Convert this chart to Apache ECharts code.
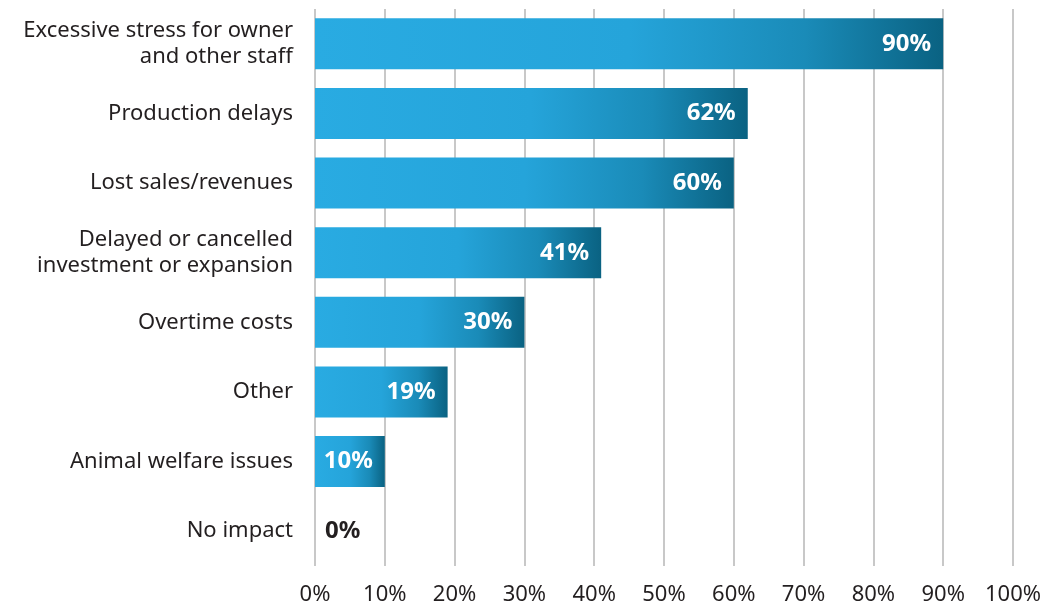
<!DOCTYPE html>
<html>
<head>
<meta charset="utf-8">
<script src="https://cdn.jsdelivr.net/npm/echarts@6/dist/echarts.min.js"></script>
<style>
    html, body { margin: 0; padding: 0; background: #fff; }
    #chart { width: 1047px; height: 606px; }
</style>
</head>
<body>
<div id="chart"></div>
<script>
// categories, top to bottom
const categories = [
    'Excessive stress for owner\nand other staff',
    'Production delays',
    'Lost sales/revenues',
    'Delayed or cancelled\ninvestment or expansion',
    'Overtime costs',
    'Other',
    'Animal welfare issues',
    'No impact'
];
const values = [90, 62, 60, 41, 30, 19, 10, 0];
const tickLabels = ['0%', '10%', '20%', '30%', '40%', '50%', '60%', '70%', '80%', '90%', '100%'];

const fontFamily = '"Noto Sans", "Open Sans", sans-serif';
const textColor = '#231f20';

// 条形渐变色
const barGradient = new echarts.graphic.LinearGradient(0, 0, 1, 0, [
    { offset: 0, color: '#29abe2' },
    { offset: 0.5, color: '#25a4da' },
    { offset: 0.78, color: '#1a8bb8' },
    { offset: 1, color: '#0a6282' }
]);

const seriesData = values.map((v) => {
    if (v === 0) {
        return {
            value: v,
            label: {
                position: 'right',
                color: textColor,
                distance: 10
            }
        };
    }
    return { value: v };
});

const chart = echarts.init(document.getElementById('chart'));
chart.setOption({
    animation: false,
    grid: {
        left: 315,
        right: 34,
        top: 9,
        bottom: 36
    },
    xAxis: {
        type: 'value',
        min: 0,
        max: 100,
        interval: 10,
        axisLine: { show: false },
        axisTick: { show: false },
        splitLine: {
            show: true,
            lineStyle: { color: '#c8c8c8', width: 2 }
        },
        axisLabel: {
            color: textColor,
            fontSize: 22,
            fontFamily: fontFamily,
            margin: 18,
            formatter: (v) => tickLabels[v / 10]
        }
    },
    yAxis: {
        type: 'category',
        inverse: true,
        data: categories,
        axisLine: { show: false },
        axisTick: { show: false },
        axisLabel: {
            color: textColor,
            fontSize: 22,
            fontFamily: fontFamily,
            lineHeight: 26,
            margin: 22,
            align: 'right'
        }
    },
    series: [
        {
            type: 'bar',
            data: seriesData,
            barWidth: 51,
            itemStyle: { color: barGradient },
            label: {
                show: true,
                position: 'insideRight',
                distance: 12,
                color: '#fff',
                fontSize: 24,
                fontWeight: 'bold',
                fontFamily: fontFamily,
                formatter: '{c}%'
            }
        }
    ]
});
</script>
</body>
</html>
